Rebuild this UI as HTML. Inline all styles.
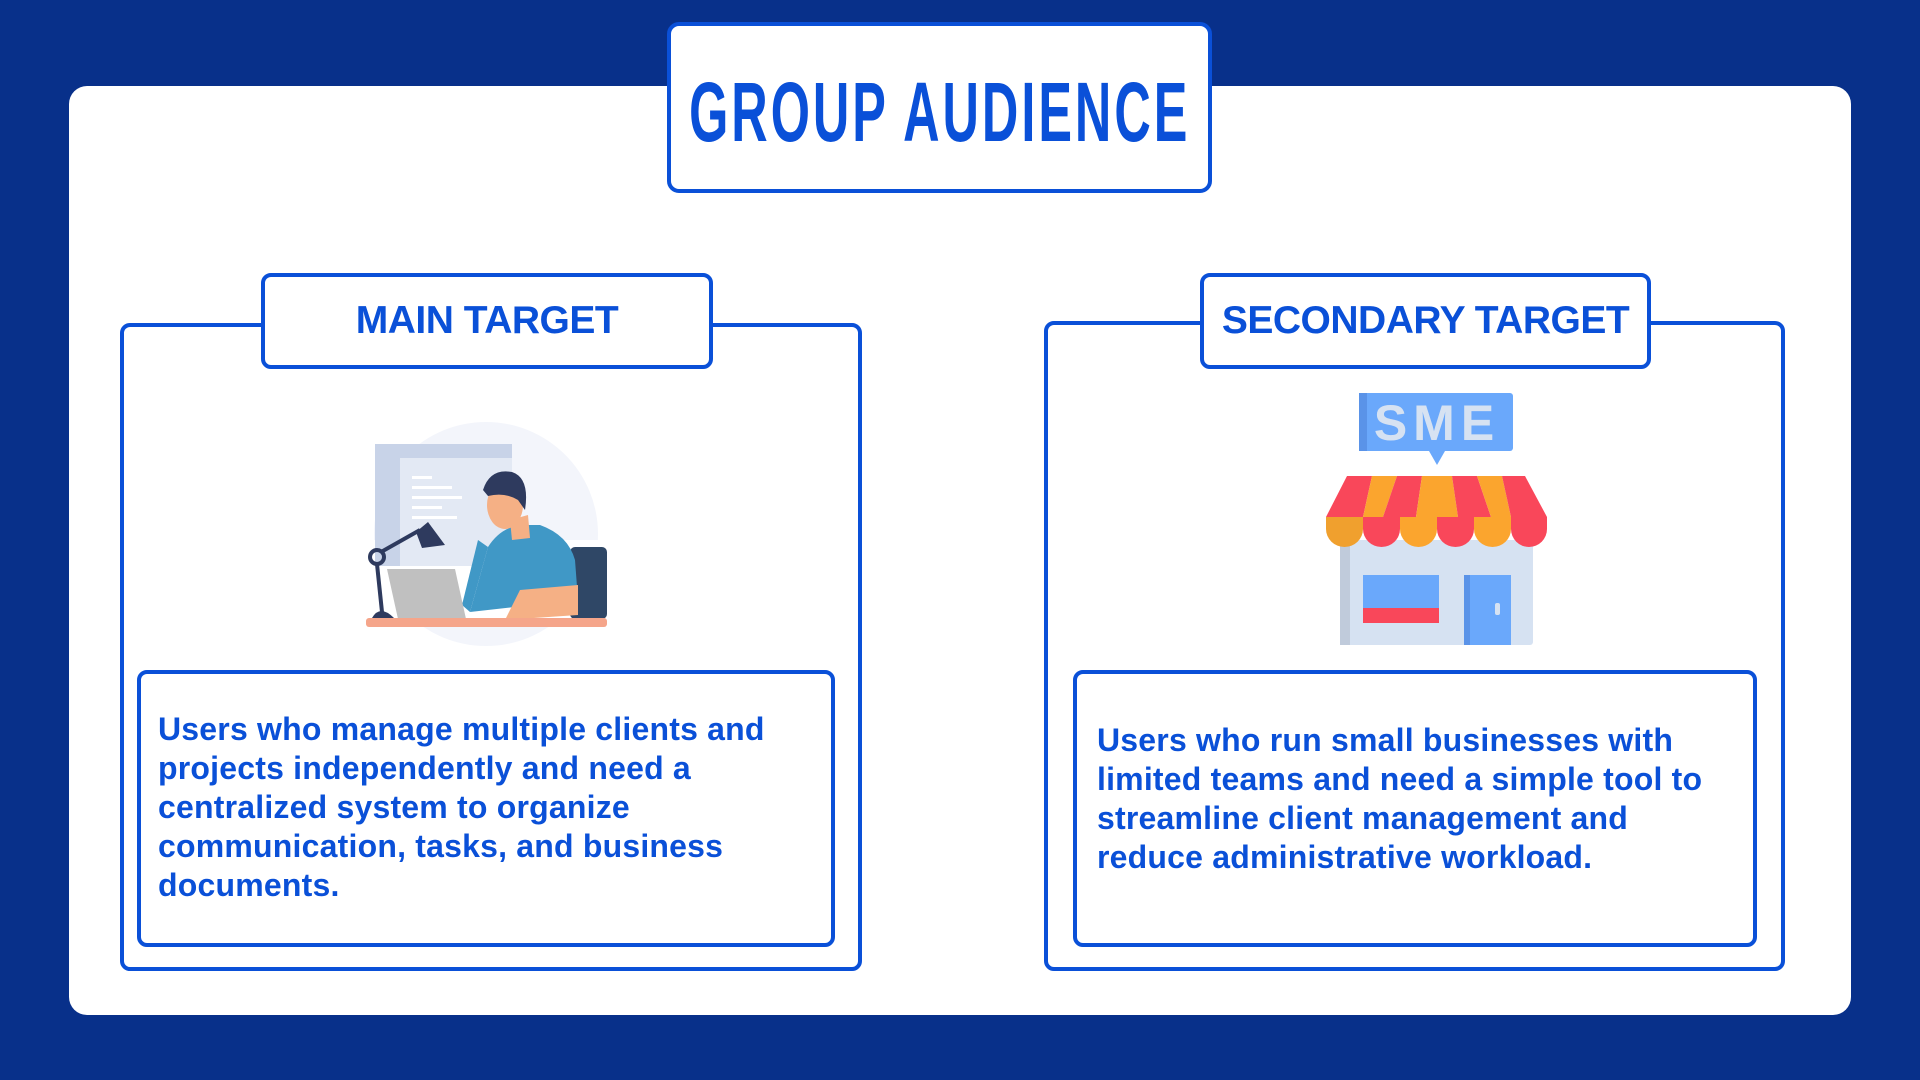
<!DOCTYPE html>
<html><head><meta charset="utf-8"><style>
html,body{margin:0;padding:0}
body{width:1920px;height:1080px;background:#08308a;position:relative;overflow:hidden;font-family:"Liberation Sans",sans-serif}
.abs{position:absolute;box-sizing:border-box}
.panel{left:69px;top:86px;width:1782px;height:929px;background:#fff;border-radius:18px}
.box{border:4px solid #0a50d8;background:#fff;border-radius:10px}
.lbl{color:#0a50d8;font-weight:bold;display:flex;align-items:center;justify-content:center;white-space:nowrap}
.txt{color:#0a50d8;font-weight:bold;font-size:32px;line-height:39px;letter-spacing:0.2px}
</style></head><body>
<div class="abs panel"></div>
<div class="abs box lbl" style="left:667px;top:22px;width:545px;height:171px;border-radius:12px">
 <span style="font-size:84px;transform:scaleX(0.6);display:inline-block;font-weight:bold;letter-spacing:5px;margin-top:10px">GROUP AUDIENCE</span></div>

<div class="abs box" style="left:120px;top:323px;width:742px;height:648px"></div>
<div class="abs box lbl" style="left:261px;top:273px;width:452px;height:96px"><span style="font-size:39px;display:inline-block;margin-top:0px;letter-spacing:-0.5px">MAIN TARGET</span></div>
<div class="abs box" style="left:1044px;top:321px;width:741px;height:650px"></div>
<div class="abs box lbl" style="left:1200px;top:273px;width:451px;height:96px"><span style="font-size:39px;display:inline-block;margin-top:0px;letter-spacing:-0.5px">SECONDARY TARGET</span></div>

<div class="abs box" style="left:137px;top:670px;width:698px;height:277px"></div>
<div class="abs txt" style="left:158px;top:710px;width:665px">Users who manage multiple clients and projects independently and need a centralized system to organize communication, tasks, and business documents.</div>
<div class="abs box" style="left:1073px;top:670px;width:684px;height:277px"></div>
<div class="abs txt" style="left:1097px;top:721px;width:620px">Users who run small businesses with limited teams and need a simple tool to streamline client management and reduce administrative workload.</div>

<svg class="abs" style="left:0;top:0" width="1920" height="1080">
 <circle cx="486" cy="534" r="112" fill="#f3f5fb"/>
 <rect x="366" y="540" width="240" height="85" fill="#fff"/>
 <rect x="375" y="444" width="137" height="122" fill="#c8d3e8"/>
 <rect x="400" y="458" width="112" height="108" fill="#e3e9f4"/>
 <g fill="#fff"><rect x="412" y="476" width="20" height="3"/><rect x="412" y="486" width="40" height="3"/><rect x="412" y="496" width="50" height="3"/><rect x="412" y="506" width="30" height="3"/><rect x="412" y="516" width="45" height="3"/></g>
 <rect x="570" y="547" width="37" height="72" rx="5" fill="#2f4766"/>
 <path d="M488 547 Q500 528 520 525 L540 525 Q568 535 575 560 L578 600 L470 612 Z" fill="#4098c6"/>
 <path d="M470 612 L488 547 L478 540 L462 605 Z" fill="#4098c6"/>
 <path d="M510 520 L512 540 L530 538 L528 515 Z" fill="#f5b085"/>
 <ellipse cx="505" cy="505" rx="18" ry="24" fill="#f5b085"/>
 <path d="M483 490 Q490 468 512 472 Q530 478 525 510 L518 500 Q505 492 488 496 Z" fill="#2e3a5e"/>
 <path d="M520 590 L578 585 L578 615 L505 620 Z" fill="#f5b085"/>
 <polygon points="387,569 455,569 466,619 398,619" fill="#c0c0c0"/>
 <rect x="366" y="618" width="241" height="9" rx="3" fill="#f5a58a"/>
 <g stroke="#2e3a5e" stroke-width="4" fill="none"><circle cx="377" cy="557" r="7"/><line x1="377" y1="564" x2="382" y2="612"/><line x1="381" y1="552" x2="420" y2="530"/></g>
 <path d="M416 532 L428 522 L445 545 L422 548 Z" fill="#2e3a5e"/>
 <path d="M372 618 Q380 604 394 618 Z" fill="#2e3a5e"/>
 <rect x="1359" y="393" width="154" height="58" rx="3" fill="#6aa8fb"/>
 <rect x="1359" y="393" width="8" height="58" fill="#5a93e8"/>
 <polygon points="1429,451 1445,451 1437,465" fill="#6aa8fb"/>
 <text x="1437" y="440" text-anchor="middle" font-family="Liberation Sans" font-weight="bold" font-size="50" fill="#d6e2f2" letter-spacing="6">SME</text>
 <rect x="1340" y="540" width="193" height="105" rx="3" fill="#d6e2f2"/>
 <rect x="1340" y="540" width="10" height="105" fill="#c0cbdb"/>
 <rect x="1363" y="575" width="76" height="48" fill="#6aa8fb"/>
 <rect x="1363" y="608" width="76" height="15" fill="#f9475a"/>
 <rect x="1464" y="575" width="47" height="70" fill="#6aa8fb"/>
 <rect x="1464" y="575" width="6" height="70" fill="#5a93e8"/>
 <rect x="1495" y="603" width="5" height="12" rx="2" fill="#d6e2f2"/>
 <g>
  <polygon points="1347,476 1372,476 1363,517 1326,517" fill="#f9475a"/>
  <polygon points="1372,476 1397,476 1383,517 1363,517" fill="#fba52e"/>
  <polygon points="1397,476 1422,476 1416,517 1383,517" fill="#f9475a"/>
  <polygon points="1422,476 1437,476 1437,517 1416,517" fill="#fba52e"/>
  <polygon points="1437,476 1452,476 1458,517 1437,517" fill="#fba52e"/>
  <polygon points="1452,476 1477,476 1491,517 1458,517" fill="#f9475a"/>
  <polygon points="1477,476 1502,476 1511,517 1491,517" fill="#fba52e"/>
  <polygon points="1502,476 1525,476 1547,517 1511,517" fill="#f9475a"/>
 </g>
 <g>
  <path d="M1326 517 h37 v12 a18.5 18 0 0 1 -37 0 z" fill="#f0a02e"/>
  <path d="M1363 517 h37 v12 a18.5 18 0 0 1 -37 0 z" fill="#f9475a"/>
  <path d="M1400 517 h37 v12 a18.5 18 0 0 1 -37 0 z" fill="#fba52e"/>
  <path d="M1437 517 h37 v12 a18.5 18 0 0 1 -37 0 z" fill="#f9475a"/>
  <path d="M1474 517 h37 v12 a18.5 18 0 0 1 -37 0 z" fill="#fba52e"/>
  <path d="M1511 517 h36 v12 a18 18 0 0 1 -36 0 z" fill="#f9475a"/>
 </g>
</svg>
</body></html>
